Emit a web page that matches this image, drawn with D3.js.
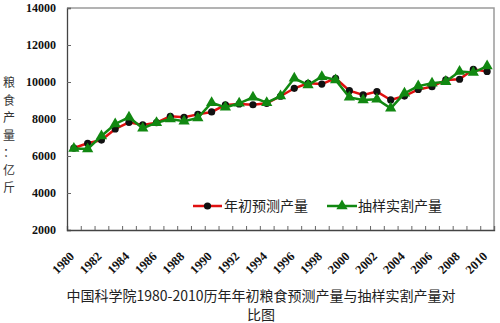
<!DOCTYPE html>
<html><head><meta charset="utf-8">
<script src="https://cdn.jsdelivr.net/npm/d3@7"></script>
<style>body{margin:0;background:#fff}svg{display:block}</style>
</head><body>
<script>
const years = d3.range(1980, 2011);
const forecast = [6430,6690,6860,7460,7820,7680,7800,8150,8090,8250,8380,8760,8810,8770,8850,9230,9660,9930,9890,10200,9530,9300,9480,9030,9240,9600,9750,10110,10150,10690,10570];
const sampled  = [6400,6380,7080,7730,8090,7500,7800,8000,7880,8060,8880,8630,8850,9170,8880,9240,10200,9840,10290,10110,9170,9030,9070,8580,9390,9780,9930,10020,10570,10510,10860];
const yTicks = [2000,4000,6000,8000,10000,12000,14000];
const xLabels = d3.range(1980, 2011, 2);
const seriesNames = ["年初预测产量","抽样实割产量"];
const yTitle = ["粮","食","产","量","：","亿","斤"];
const titleLines = ["中国科学院1980-2010历年年初粮食预测产量与抽样实割产量对","比图"];

const W=500,H=323;
const m={l:67,r:494,t:8,b:230};
const svg=d3.select("body").append("svg").attr("width",W).attr("height",H);
const x=d3.scaleBand().domain(years).range([m.l,m.r]);
const y=d3.scaleLinear().domain([2000,14000]).range([m.b,m.t]);
const cx=d=>x(d)+x.bandwidth()/2;

// frame top/right
svg.append("path").attr("d",`M${m.l},${m.t}H${m.r}V${m.b}`).attr("fill","none").attr("stroke","#9a9a9a").attr("stroke-width",1.5);

// y axis
const ya=svg.append("g").attr("transform",`translate(${m.l},0)`)
  .call(d3.axisRight(y).tickValues(yTicks).tickSize(4).tickFormat(""));
ya.select(".domain").attr("stroke","#444").attr("stroke-width",1.3);
ya.selectAll(".tick line").attr("stroke","#666");
svg.append("g").selectAll("text").data(yTicks).join("text")
  .attr("x",56).attr("y",d=>y(d)).attr("dy","0.35em").attr("text-anchor","end")
  .attr("font-family","Liberation Serif").attr("font-weight","bold").attr("font-size",12).attr("fill","#111")
  .text(d=>d);

// x axis with ticks at band boundaries
const xa=svg.append("g").attr("transform",`translate(0,${m.b})`)
  .call(d3.axisTop(d3.scaleLinear().domain([0,years.length]).range([m.l,m.r])).tickValues(d3.range(1,years.length+1)).tickSize(4).tickFormat(""));
xa.select(".domain").attr("stroke","#444").attr("stroke-width",1.3);
xa.selectAll(".tick line").attr("stroke","#666");
svg.append("g").selectAll("text").data(xLabels).join("text")
  .attr("transform",d=>`translate(${cx(d)-2},${m.b+24}) rotate(-45)`)
  .attr("text-anchor","end").attr("dy","0.35em")
  .attr("font-family","Liberation Serif").attr("font-weight","bold").attr("font-size",12.5).attr("fill","#111")
  .text(d=>d);

// y title
svg.append("g").selectAll("text").data(yTitle).join("text")
  .attr("x",9).attr("y",(d,i)=>83+i*17.5).attr("dy","0.35em").attr("text-anchor","middle")
  .attr("font-family","Noto Sans CJK SC").attr("font-size",12).attr("fill","#333").text(d=>d);

// lines
const line=d3.line().x((d,i)=>cx(years[i])).y(d=>y(d));
svg.append("path").datum(forecast).attr("d",line).attr("fill","none").attr("stroke","#e01010").attr("stroke-width",2.5);
svg.append("g").selectAll("circle").data(forecast).join("circle")
  .attr("cx",(d,i)=>cx(years[i])).attr("cy",d=>y(d)).attr("r",3.6).attr("fill","#111");
svg.append("path").datum(sampled).attr("d",line).attr("fill","none").attr("stroke","#118811").attr("stroke-width",2.5);
const tri=d3.symbol().type(d3.symbolTriangle).size(55);
svg.append("g").selectAll("path").data(sampled).join("path")
  .attr("transform",(d,i)=>`translate(${cx(years[i])},${y(d)})`).attr("d",tri).attr("fill","#118811");

// legend
const lg=svg.append("g");
lg.append("line").attr("x1",193).attr("x2",222).attr("y1",206).attr("y2",206).attr("stroke","#e01010").attr("stroke-width",2.5);
lg.append("circle").attr("cx",207.5).attr("cy",206).attr("r",3.6).attr("fill","#111");
lg.append("text").attr("x",224).attr("y",206).attr("dy","0.35em").attr("font-family","Noto Sans CJK SC").attr("font-size",14).attr("fill","#222").text(seriesNames[0]);
lg.append("line").attr("x1",327).attr("x2",357).attr("y1",206).attr("y2",206).attr("stroke","#118811").attr("stroke-width",2.5);
lg.append("path").attr("transform","translate(342,206)").attr("d",tri).attr("fill","#118811");
lg.append("text").attr("x",358).attr("y",206).attr("dy","0.35em").attr("font-family","Noto Sans CJK SC").attr("font-size",14).attr("fill","#222").text(seriesNames[1]);

// title
svg.append("g").selectAll("text").data(titleLines).join("text")
  .attr("x",261).attr("y",(d,i)=>296+i*19).attr("dy","0.35em").attr("text-anchor","middle")
  .attr("font-family","Noto Sans CJK SC").attr("font-size",14).attr("fill","#222").text(d=>d);
</script>
</body></html>
